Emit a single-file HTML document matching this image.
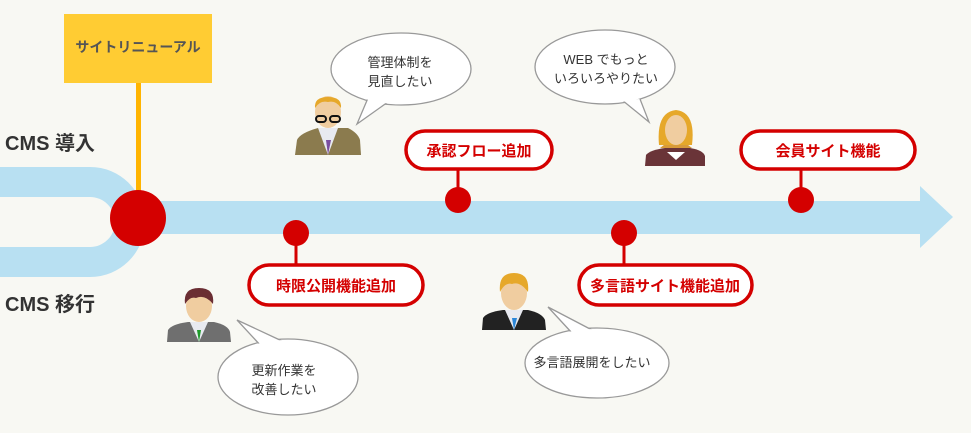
<!DOCTYPE html>
<html><head><meta charset="utf-8"><style>
html,body{margin:0;padding:0;background:#f8f8f3;}
svg{display:block;font-family:"Liberation Sans","Noto Sans CJK JP",sans-serif;}
.lb{font-size:15px;font-weight:bold;fill:#d40000;text-anchor:middle;}
.bt{font-size:13px;fill:#333;text-anchor:middle;}
</style></head><body>
<svg width="971" height="433" viewBox="0 0 971 433" xmlns="http://www.w3.org/2000/svg">
<rect width="971" height="433" fill="#f8f8f3"/>
<path d="M0,167 H90 A55,55 0 0 1 90,277 H0 V247 H90 A25,25 0 0 0 90,197 H0 Z" fill="#b8e0f2"/>
<path d="M140,201 H920 V186 L953,217 L920,248 V234 H140 Z" fill="#b8e0f2"/>
<rect x="136" y="83" width="5" height="120" fill="#ffb400"/>
<rect x="64" y="14" width="148" height="69" fill="#ffcc33"/>
<text x="138" y="52" font-size="14" font-weight="bold" fill="#555" text-anchor="middle">サイトリニューアル</text>
<circle cx="138" cy="218" r="28" fill="#d40000"/>
<text x="5" y="150" font-size="20" font-weight="bold" fill="#333">CMS 導入</text>
<text x="5" y="311" font-size="20" font-weight="bold" fill="#333">CMS 移行</text>
<g stroke="#d40000" stroke-width="3">
<line x1="296" y1="233" x2="296" y2="266"/><line x1="458" y1="200" x2="458" y2="168"/>
<line x1="624" y1="233" x2="624" y2="266"/><line x1="801" y1="200" x2="801" y2="168"/>
</g>
<g fill="#d40000"><circle cx="296" cy="233" r="13"/><circle cx="458" cy="200" r="13"/><circle cx="624" cy="233" r="13"/><circle cx="801" cy="200" r="13"/></g>
<g fill="#fff" stroke="#d40000" stroke-width="3.5">
<rect x="406" y="131" width="146" height="38" rx="19"/>
<rect x="249" y="265" width="174" height="40" rx="20"/>
<rect x="579" y="265" width="173" height="40" rx="20"/>
<rect x="741" y="131" width="174" height="38" rx="19"/>
</g>
<text class="lb" x="479" y="156">承認フロー追加</text>
<text class="lb" x="336" y="291">時限公開機能追加</text>
<text class="lb" x="665" y="291">多言語サイト機能追加</text>
<text class="lb" x="828" y="156">会員サイト機能</text>
<!-- bubbles -->
<g stroke="#999" stroke-width="1.3" fill="#fff">
<ellipse cx="401" cy="69" rx="70" ry="36"/>
<path d="M368,98 L357,124 L388,102"/>
<ellipse cx="605" cy="67" rx="70" ry="37"/>
<path d="M622,100 L649,122 L640,99"/>
<ellipse cx="288" cy="377" rx="70" ry="38"/>
<path d="M262,347 L237,320 L282,341"/>
<ellipse cx="597" cy="363" rx="72" ry="35"/>
<path d="M572,333 L548,307 L592,330"/>
</g>
<g fill="#fff">
<ellipse cx="401" cy="69" rx="69" ry="35"/>
<ellipse cx="605" cy="67" rx="69" ry="36"/>
<ellipse cx="288" cy="377" rx="69" ry="37"/>
<ellipse cx="597" cy="363" rx="71" ry="34"/>
</g>
<text class="bt" x="400" y="67">管理体制を</text><text class="bt" x="400" y="86">見直したい</text>
<text class="bt" x="606" y="64">WEB でもっと</text><text class="bt" x="606" y="83">いろいろやりたい</text>
<text class="bt" x="284" y="375">更新作業を</text><text class="bt" x="284" y="394">改善したい</text>
<text class="bt" x="592" y="367">多言語展開をしたい</text>
<!-- people -->
<g>
<path d="M295,155 L297,140 Q300,133 318,128 L348,128 Q358,133 360,140 L361,155 Z" fill="#8b7b4e"/>
<path d="M318,128 L328,155 L338,128 Z" fill="#e8eaf0"/><path d="M326,140 L328,155 L331,140 Z" fill="#7a4ea0"/>
<ellipse cx="328" cy="112" rx="13" ry="16" fill="#f0cda0"/><path d="M315,108 Q314,97 328,97 Q342,97 341,108 Q336,100 328,102 Q320,100 315,108Z" fill="#e6a82a"/>
<g fill="none" stroke="#111" stroke-width="2"><rect x="316" y="116" width="10" height="6" rx="3"/><rect x="330" y="116" width="10" height="6" rx="3"/></g>
</g>
<g>
<path d="M645,166 L646,155 Q650,150 665,148 L690,148 Q703,150 705,156 L705,166 Z" fill="#6a3438"/>
<path d="M660,148 Q676,134 692,148 Z" fill="#d89a3a"/>
<path d="M659,145 Q656,112 676,110 Q696,112 692,145 Z" fill="#e6a82a"/>
<ellipse cx="676" cy="130" rx="11" ry="15" fill="#f0cda0"/>
<path d="M667,152 L676,160 L685,152 Z" fill="#fff"/>
</g>
<g>
<path d="M167,342 L168,330 Q172,324 188,322 L214,322 Q228,325 230,332 L231,342 Z" fill="#6f6f6f"/>
<path d="M190,322 L199,342 L208,322 Z" fill="#e8eaf0"/><path d="M197,330 L199,342 L201,330 Z" fill="#1e9a2a"/>
<ellipse cx="199" cy="306" rx="13" ry="16" fill="#f0cda0"/><path d="M185,304 Q183,288 199,288 Q215,288 213,304 Q205,294 196,298 Q190,296 185,304Z" fill="#6b2e33"/>
</g>
<g>
<path d="M482,330 L483,318 Q487,312 503,310 L528,310 Q542,313 545,320 L546,330 Z" fill="#222"/>
<path d="M505,310 L514,330 L523,310 Z" fill="#e8eaf0"/><path d="M512,318 L514,330 L517,318 Z" fill="#2a86d8"/>
<ellipse cx="514" cy="293" rx="13" ry="17" fill="#f0cda0"/><path d="M500,292 Q498,273 514,273 Q530,273 528,292 Q520,281 512,284 Q505,282 500,292Z" fill="#e6a82a"/>
</g>
</svg>
</body></html>
